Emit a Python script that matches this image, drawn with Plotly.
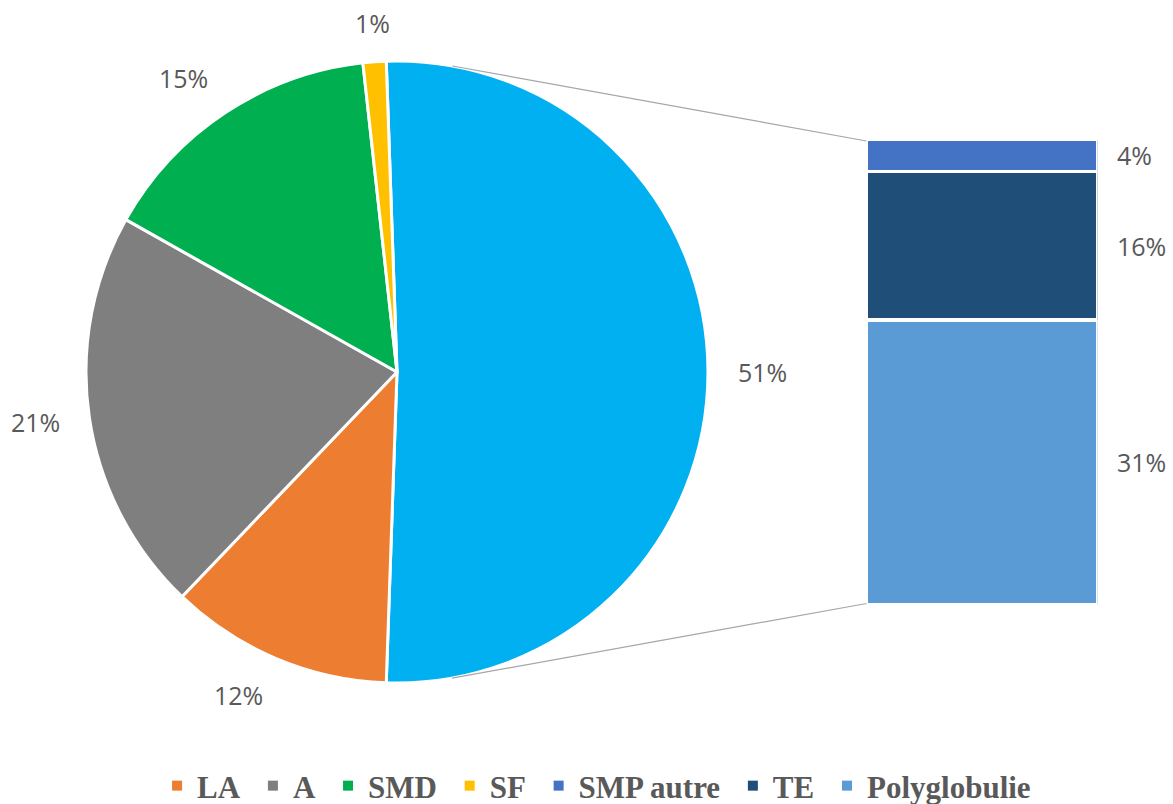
import math
import plotly.graph_objects as go

# ---------------- data ----------------
pie_labels = ["LA", "A", "SMD", "SF"]
pie_values = [11.6, 21.0, 15.1, 1.2]
bar_labels = ["SMP autre", "TE", "Polyglobulie"]
bar_values = [3.5, 16.3, 31.3]
other_label = "Autre"

# ---------------- styles ----------------
pie_colors = ["#ED7D31", "#7F7F7F", "#00B050", "#FFC000"]
bar_colors = ["#4472C4", "#1F4E79", "#5B9BD5"]
other_color = "#00B0F0"
text_color = "#595959"
label_font = dict(family="Open Sans", size=25, color=text_color)

W, H = 1173, 804
cx, cy, R = 397, 372, 311            # pie geometry (px)
bar_l, bar_r, bar_t, bar_b = 866.5, 1097.5, 139.5, 605  # bar box (px)

other = sum(bar_values)
all_vals = [other] + pie_values
all_labels = [other_label] + pie_labels
all_colors = [other_color] + pie_colors
total = sum(all_vals)
rotation = -(other / total * 360 - 180) / 2

fig = go.Figure()

fig.add_trace(go.Pie(
    labels=all_labels, values=all_vals, sort=False, direction="clockwise",
    rotation=rotation, textinfo="none", hoverinfo="label+percent",
    marker=dict(colors=all_colors, line=dict(color="white", width=3)),
    domain=dict(x=[(cx - R) / W, (cx + R) / W],
                y=[1 - (cy + R) / H, 1 - (cy - R) / H]),
    showlegend=False,
))

# stacked bar: bottom to top
for lab, val, col in reversed(list(zip(bar_labels, bar_values, bar_colors))):
    fig.add_trace(go.Bar(
        x=[0], y=[val], name=lab, width=1,
        marker=dict(color=col, line=dict(color="white", width=3.5)),
        showlegend=False, xaxis="x", yaxis="y",
    ))

# legend entries (trailing no-break space widens the gap between entries)
for lab, col in zip(pie_labels + bar_labels, pie_colors + bar_colors):
    fig.add_trace(go.Scatter(
        x=[None], y=[None], mode="markers", name=lab + "\u00a0",
        marker=dict(symbol="square", size=10, color=col),
        showlegend=True, xaxis="x", yaxis="y",
    ))

annotations = []
# pie percentage labels: nearest corner of the label at distance D from centre
start = rotation
D, hh = 339, 11
for v in all_vals:
    span = v / total * 360
    mid = math.radians(start + span / 2)
    ux, uy = math.sin(mid), -math.cos(mid)
    px = cx + D * ux
    py = cy + D * uy
    xa = "right" if ux < -0.3 else ("left" if ux > 0.3 else "center")
    if uy < -0.3:
        py -= hh
    elif uy > 0.3:
        py += hh
    annotations.append(dict(
        x=px / W, y=1 - py / H, xref="paper", yref="paper",
        text=f"{int(v / total * 100 + 0.5)}%", showarrow=False,
        xanchor=xa, yanchor="middle", font=label_font,
    ))
    start += span

# bar labels
cum = 0
for lab, val in reversed(list(zip(bar_labels, bar_values))):
    annotations.append(dict(
        x=0.5, y=cum + val / 2, xref="x", yref="y",
        text=f"{int(val + 0.5)}%", showarrow=False, xanchor="left",
        yanchor="middle", xshift=17, font=label_font,
    ))
    cum += val

# connector lines (tangent from pie to bar corners)
shapes = []
for (ex, ey), upper in (((bar_l, bar_t + 1.5), True), ((bar_l, bar_b - 1.5), False)):
    dx, dy = ex - cx, ey - cy
    d = math.hypot(dx, dy)
    base = math.atan2(dy, dx)
    a = math.acos(R / d)
    ang = base - a if upper else base + a
    tx, ty = cx + R * math.cos(ang), cy + R * math.sin(ang)
    shapes.append(dict(
        type="line", xref="paper", yref="paper",
        x0=tx / W, y0=1 - ty / H, x1=ex / W, y1=1 - ey / H,
        line=dict(color="#A6A6A6", width=1.2),
    ))

fig.update_layout(
    width=W, height=H,
    margin=dict(l=0, r=0, t=0, b=0, autoexpand=False),
    paper_bgcolor="white", plot_bgcolor="white",
    barmode="stack",
    xaxis=dict(domain=[bar_l / W, bar_r / W], range=[-0.5, 0.5], visible=False,
               fixedrange=True),
    yaxis=dict(domain=[1 - bar_b / H, 1 - bar_t / H], range=[0, other],
               visible=False, fixedrange=True),
    legend=dict(orientation="h", x=0.512, xanchor="center", y=1 - 786 / H,
                yanchor="middle", traceorder="normal",
                font=dict(family="Liberation Serif", size=31, color=text_color,
                          weight="bold"),
                itemclick=False, itemdoubleclick=False),
    annotations=annotations,
    shapes=shapes,
)

fig.write_html(
    "out.html",
    config={"displayModeBar": False},
    post_script="document.body.style.margin='0px';"
                "document.documentElement.style.overflow='hidden';",
)
